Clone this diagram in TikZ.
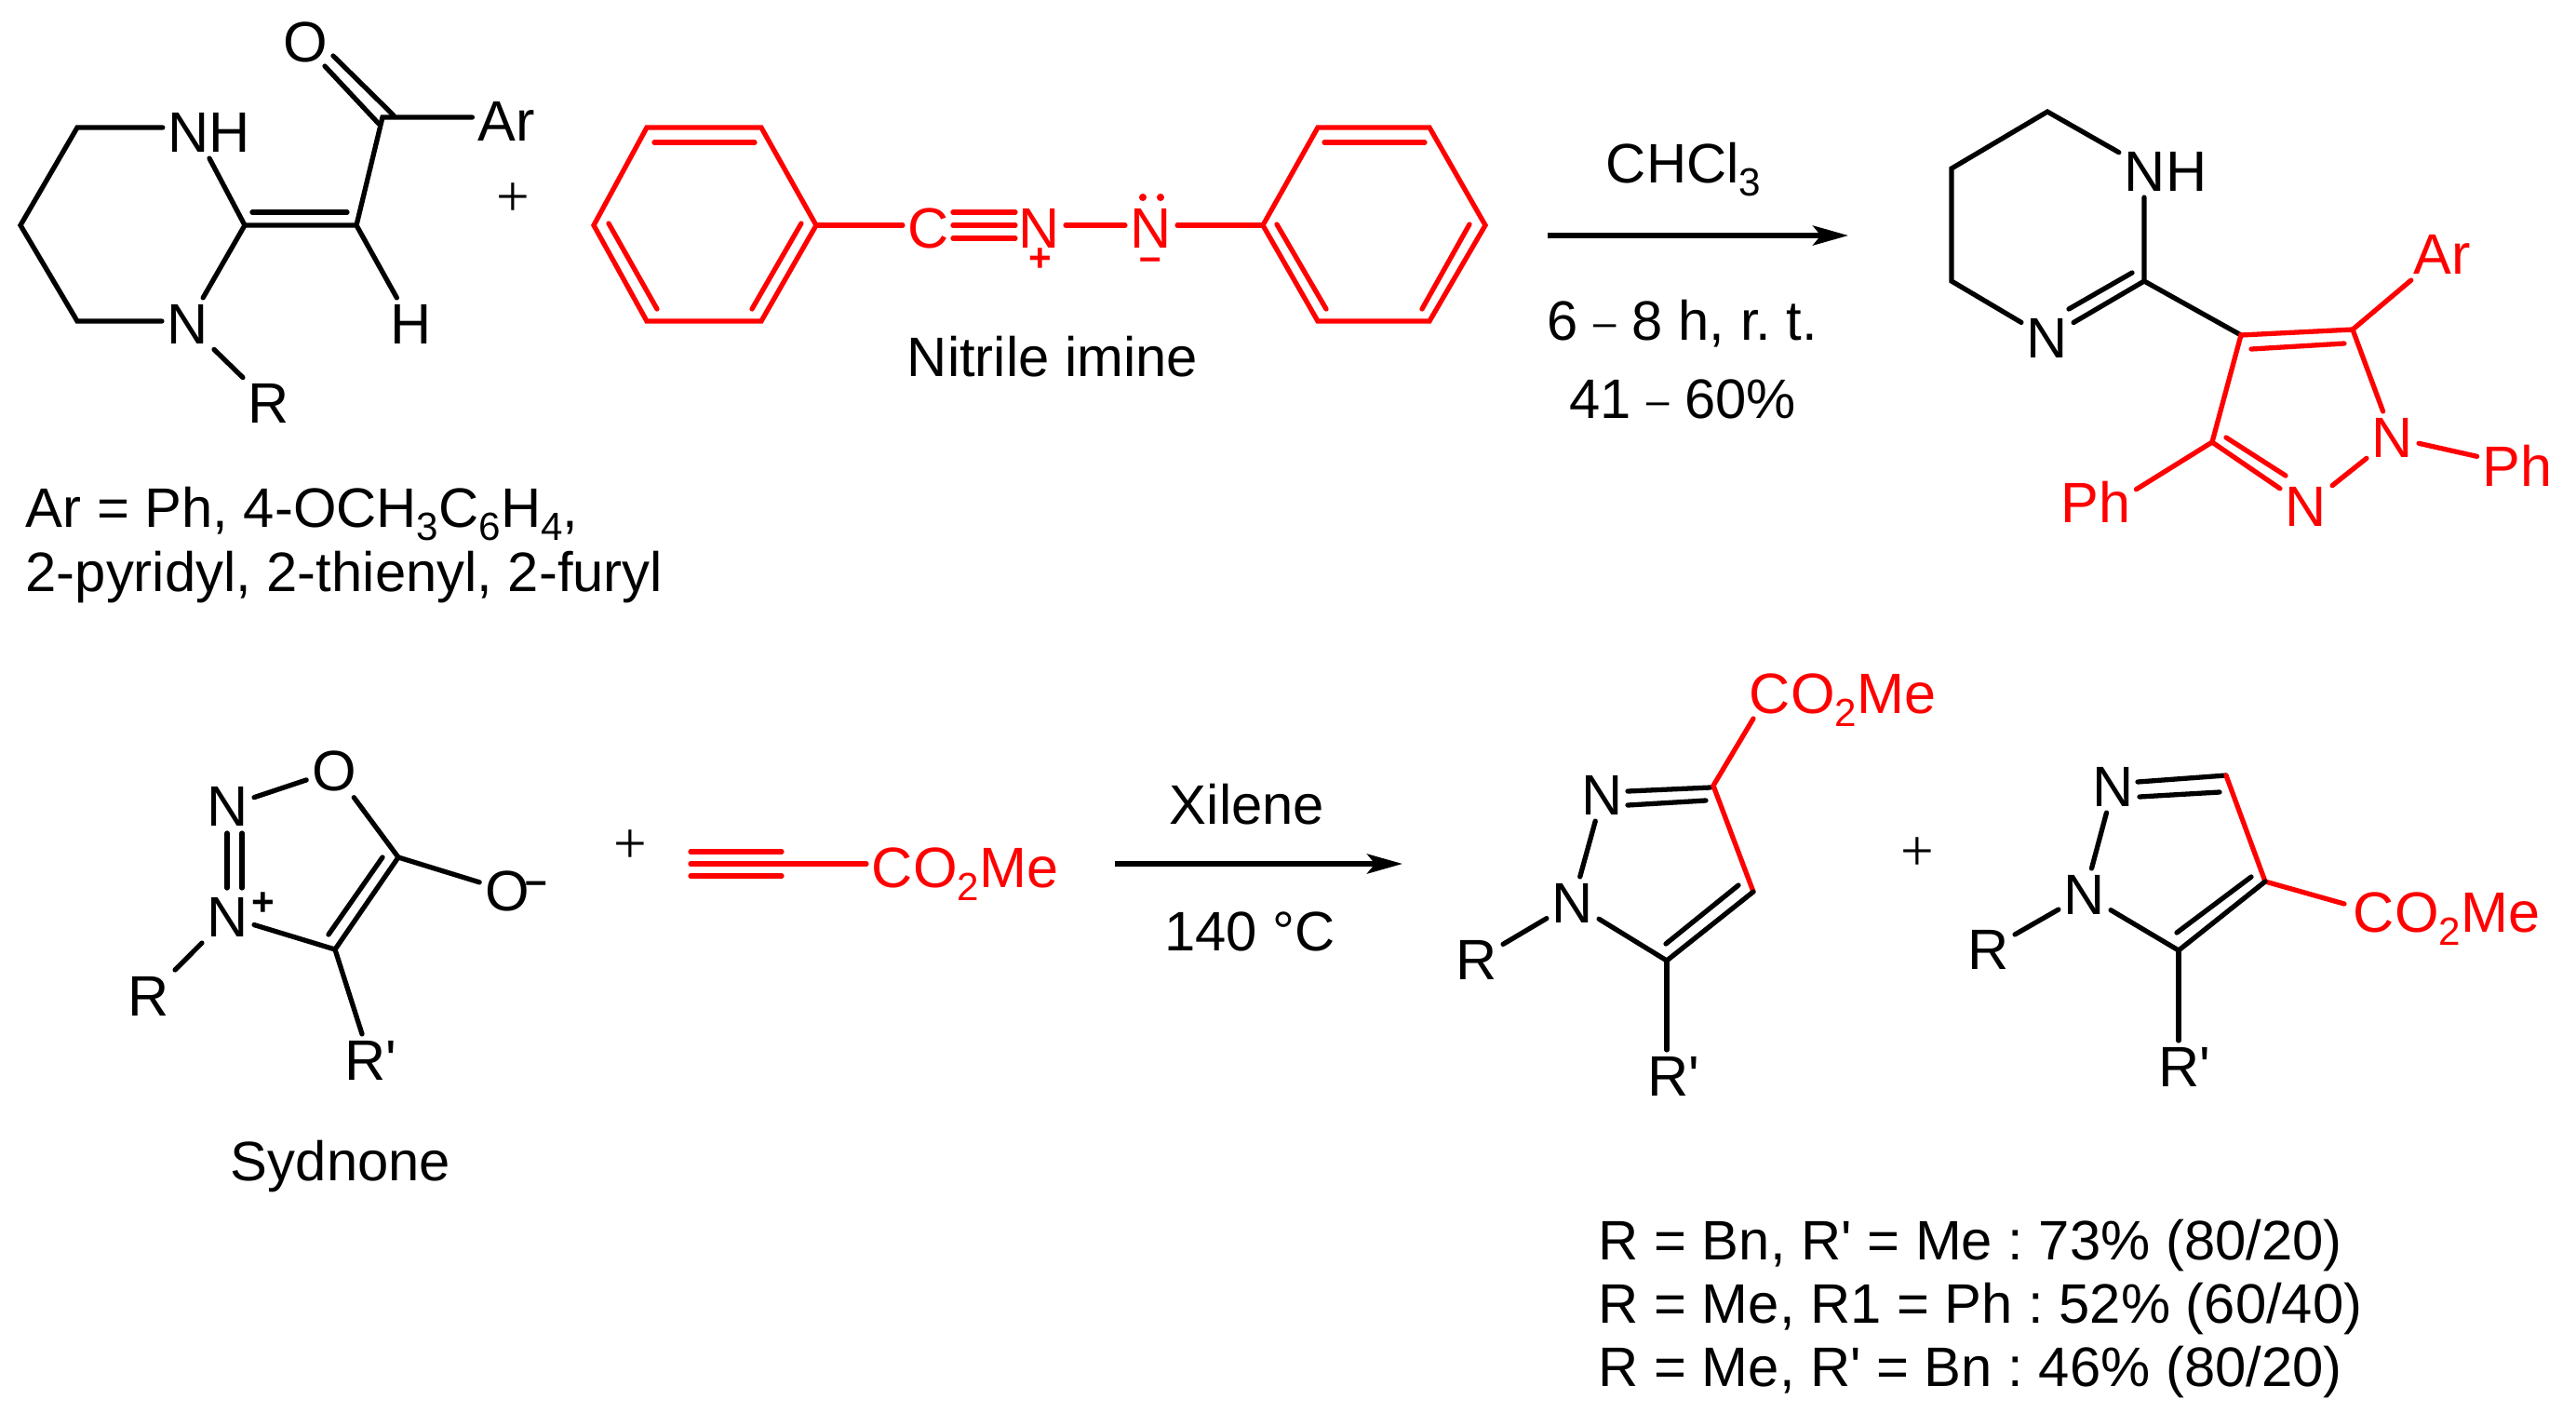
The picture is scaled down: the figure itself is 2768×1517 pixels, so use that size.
\documentclass[tikz,border=0pt]{standalone}
\usepackage{fontspec}
\setmainfont{Liberation Sans}
\newfontfamily\plusfont{Liberation Serif}
\usetikzlibrary{arrows.meta}
\frenchspacing
\newcommand{\subs}[1]{\raisebox{-.24em}{\fontsize{12}{12}\selectfont #1}}
\newcommand{\shortdash}{\raisebox{1pt}{\fontsize{12.5}{12}\selectfont --}}
\newcommand{\prm}{\textquotesingle}
\tikzset{
  bond/.style={line width=1.5pt, line cap=round, line join=miter},
  rbond/.style={bond, red},
  atom/.style={font=\fontsize{17.4}{21}\selectfont, inner xsep=1.5pt, inner ysep=1.8pt},
  ratom/.style={atom, text=red},
  txt/.style={font=\fontsize{17}{21}\selectfont, inner sep=0pt, anchor=base west},
  ctxt/.style={font=\fontsize{17}{21}\selectfont, inner sep=0pt, anchor=base},
  chg/.style={font=\fontsize{12}{12}\selectfont\bfseries, inner sep=0pt},
  rchg/.style={chg, text=red},
  bigplus/.style={font=\plusfont\fontsize{18}{18}\selectfont, inner sep=0pt},
  lpair/.style={circle, fill=red, inner sep=0pt, minimum size=2.3pt},
  rxn/.style={line width=1.5pt, -{Stealth[length=10.8pt, width=6pt, inset=2.4pt]}}
}
\begin{document}
\begin{tikzpicture}[x=.01cm, y=-.01cm]
\useasboundingbox (0,0) rectangle (2768,1517);
% enaminone
\coordinate (a1) at (83,137);
\coordinate (a2) at (22,242);
\coordinate (a3) at (83,345);
\coordinate (a4) at (263,242);
\coordinate (a5) at (383,242);
\coordinate (a6) at (411,126);
\coordinate (a4i) at (271,228);
\coordinate (a5i) at (373,228);
\coordinate (o1a) at (423,124);
\coordinate (o1b) at (358,60);
\coordinate (o2a) at (407,133);
\coordinate (o2b) at (349,71);
\node[atom] (an1) at (225,142){NH};
\node[atom] (an2) at (202,348){N};
\node[atom] (aar) at (544,130){Ar};
\node[atom] (ah) at (442,348){H};
\node[atom] (ar) at (289,433){R};
\node[atom] (ao) at (328,45){O};
\draw[bond] (a1 -| an1.west) -- (a1) -- (a2) -- (a3) -- (a3 -| an2.west);
\draw[bond] (an1.south) -- (a4) -- (an2);
\draw[bond] (a4) -- (a5) -- (ah);
\draw[bond] (a4i) -- (a5i);
\draw[bond] (a5) -- (a6) -- (a6 -| aar.west);
\draw[bond] (o1a) -- (o1b);
\draw[bond] (o2a) -- (o2b);
\draw[bond] (an2) -- (ar);
\node[bigplus] (plus1) at (551,215){+};
\node[txt] (ltext1) at (27,566){Ar = Ph, 4-OCH\subs{3}C\subs{6}H\subs{4},};
\node[txt] (ltext2) at (27,635){2-pyridyl, 2-thienyl, 2-furyl};
% nitrile imine
\coordinate (b1) at (695,137);
\coordinate (b2) at (818,137);
\coordinate (b3) at (877,242);
\coordinate (b4) at (818,345);
\coordinate (b5) at (695,345);
\coordinate (b6) at (638,242);
\coordinate (b1i) at (703,153);
\coordinate (b2i) at (811,153);
\coordinate (b3i) at (861,240);
\coordinate (b4i) at (808,332);
\coordinate (b5i) at (706,332);
\coordinate (b6i) at (654,240);
\draw[rbond] (b1) -- (b2) -- (b3) -- (b4) -- (b5) -- (b6) -- cycle;
\draw[rbond] (b1i) -- (b2i);
\draw[rbond] (b3i) -- (b4i);
\draw[rbond] (b5i) -- (b6i);
\node[ratom] (nc) at (998,245){C};
\node[ratom] (nn1) at (1117,245){N};
\node[ratom] (nn2) at (1237,245){N};
\node[rchg] (nplus) at (1118,279){+};
\node[rchg] (nminus) at (1236,284){--};
\node[lpair] (np1) at (1228,212){};
\node[lpair] (np2) at (1247,212){};
\coordinate (t1a) at (1024,228);
\coordinate (t1b) at (1091,228);
\coordinate (t2a) at (1024,242);
\coordinate (t2b) at (1091,242);
\coordinate (t3a) at (1024,256);
\coordinate (t3b) at (1091,256);
\draw[rbond] (b3) -- (b3 -| nc.west);
\draw[rbond] (t1a) -- (t1b);
\draw[rbond] (t2a) -- (t2b);
\draw[rbond] (t3a) -- (t3b);
\draw[rbond] (t2b -| nn1.east) -- (t2b -| nn2.west);
\coordinate (c1) at (1416,137);
\coordinate (c2) at (1536,137);
\coordinate (c3) at (1596,242);
\coordinate (c4) at (1536,345);
\coordinate (c5) at (1416,345);
\coordinate (c6) at (1357,242);
\coordinate (c1i) at (1423,153);
\coordinate (c2i) at (1531,153);
\coordinate (c3i) at (1579,241);
\coordinate (c4i) at (1528,332);
\coordinate (c5i) at (1425,332);
\coordinate (c6i) at (1372,241);
\draw[rbond] (c1) -- (c2) -- (c3) -- (c4) -- (c5) -- (c6) -- cycle;
\draw[rbond] (c1i) -- (c2i);
\draw[rbond] (c3i) -- (c4i);
\draw[rbond] (c5i) -- (c6i);
\draw[rbond] (c6 -| nn2.east) -- (c6);
\node[ctxt] (nlabel) at (1131,404){Nitrile imine};
% first reaction arrow
\coordinate (r1a) at (1663,253);
\coordinate (r1b) at (1986,253);
\draw[rxn] (r1a) -- (r1b);
\node[ctxt] (r1t) at (1809,196){CHCl\subs{3}};
\node[ctxt] (r1c) at (1808,365){6 \shortdash{} 8 h, r. t.};
\node[ctxt] (r1y) at (1808,449){41 \shortdash{} 60\%};
% pyrazole product
\coordinate (d1) at (2200,120);
\coordinate (d2) at (2097,181);
\coordinate (d3) at (2097,302);
\coordinate (d4) at (2304,302);
\coordinate (d4i) at (2291,293);
\coordinate (d5i) at (2223,332);
\coordinate (e1) at (2408,360);
\coordinate (e2) at (2528,354);
\coordinate (e3) at (2377,475);
\coordinate (e1i) at (2419,375);
\coordinate (e2i) at (2519,369);
\coordinate (e3i) at (2392,470);
\coordinate (e4i) at (2456,511);
\node[atom] (dn1) at (2327,184){NH};
\node[atom] (dn2) at (2200,363){N};
\node[ratom] (en1) at (2571,470){N};
\node[ratom] (en2) at (2478,544){N};
\node[ratom] (ear) at (2624,273){Ar};
\node[ratom] (eph1) at (2705,500){Ph};
\node[ratom] (eph2) at (2252,539){Ph};
\draw[bond] (dn1.158) -- (d1) -- (d2) -- (d3) -- (dn2);
\draw[bond] (d4 |- dn1.south) -- (d4) -- (dn2);
\draw[bond] (d4i) -- (d5i);
\draw[bond] (d4) -- (e1);
\draw[rbond] (e3) -- (e1) -- (e2) -- (en1);
\draw[rbond] (e1i) -- (e2i);
\draw[rbond] (e2) -- (ear);
\draw[rbond] (en1) -- (eph1);
\draw[rbond] (en1) -- (en2) -- (e3);
\draw[rbond] (e3i) -- (e4i);
\draw[rbond] (e3) -- (eph2.17);
% sydnone
\coordinate (s1) at (428,921);
\coordinate (s2) at (360,1020);
\coordinate (s1i) at (411,921);
\coordinate (s2i) at (353,1004);
\coordinate (s3a) at (244,895);
\coordinate (s3b) at (244,954);
\coordinate (s4a) at (260,895);
\coordinate (s4b) at (260,954);
\node[atom] (sn1) at (245,866){N};
\node[atom] (sn2) at (245,985){N};
\node[atom] (so1) at (359,828){O};
\node[atom] (so2) at (545,957){O};
\node[atom] (sr) at (160,1070){R};
\node[atom] (srp) at (398,1139){R\prm};
\node[chg] (splus) at (283,971){+};
\node[chg] (sminus) at (576,954){--};
\draw[bond] (sn1) -- (so1) -- (s1) -- (s2) -- (sn2);
\draw[bond] (s3a) -- (s3b);
\draw[bond] (s4a) -- (s4b);
\draw[bond] (s1i) -- (s2i);
\draw[bond] (s1) -- (so2);
\draw[bond] (sn2) -- (sr);
\draw[bond] (s2) -- (srp);
\node[ctxt] (slabel) at (366,1268){Sydnone};
\node[bigplus] (plus2) at (677,910){+};
% alkyne
\coordinate (k1a) at (742,915);
\coordinate (k1b) at (840,915);
\coordinate (k2a) at (742,928);
\coordinate (k3a) at (742,941);
\coordinate (k3b) at (840,941);
\node[ratom, anchor=base west] (kco) at (931,953){CO\subs{2}Me};
\draw[rbond] (k1a) -- (k1b);
\draw[rbond] (k2a) -- (k2a -| kco.west);
\draw[rbond] (k3a) -- (k3b);
% second reaction arrow
\coordinate (r2a) at (1198,928);
\coordinate (r2b) at (1507,928);
\draw[rxn] (r2a) -- (r2b);
\node[ctxt] (r2t) at (1340,885){Xilene};
\node[ctxt] (r2c) at (1343,1021){140 °C};
% regioisomer one
\coordinate (f1) at (1841,844);
\coordinate (f2) at (1884,958);
\coordinate (f3) at (1791,1032);
\coordinate (f1a) at (1749,850);
\coordinate (f1b) at (1838,846);
\coordinate (f2a) at (1749,865);
\coordinate (f2b) at (1833,860);
\coordinate (f2i) at (1868,951);
\coordinate (f3i) at (1790,1014);
\node[atom] (fn2) at (1722,854){N};
\node[atom] (fn1) at (1690,970){N};
\node[atom] (fr) at (1587,1031){R};
\node[atom] (frp) at (1798,1156){R\prm};
\node[ratom, anchor=base west] (fco) at (1874,766){CO\subs{2}Me};
\draw[bond] (f1a) -- (f1b);
\draw[bond] (f2a) -- (f2b);
\draw[rbond] ([shift={(10,6)}]fco.base west) -- (f1) -- (f2);
\draw[bond] (f2) -- (f3) -- (fn1) -- (fn2);
\draw[bond] (f2i) -- (f3i);
\draw[bond] (fn1) -- (fr);
\draw[bond] (f3) -- (f3 |- frp.north);
\node[bigplus] (plus3) at (2060,918){+};
% regioisomer two
\coordinate (g1) at (2392,833);
\coordinate (g2) at (2434,947);
\coordinate (g3) at (2341,1021);
\coordinate (g1a) at (2297,840);
\coordinate (g2a) at (2299,856);
\coordinate (g2b) at (2385,851);
\coordinate (g2i) at (2419,942);
\coordinate (g3i) at (2339,1002);
\node[atom] (gn2) at (2271,845){N};
\node[atom] (gn1) at (2240,961){N};
\node[atom] (gr) at (2137,1020){R};
\node[atom] (grp) at (2347,1146){R\prm};
\node[ratom, anchor=base west] (gco) at (2523,1001){CO\subs{2}Me};
\draw[bond] (g1a) -- (g1);
\draw[bond] (g2a) -- (g2b);
\draw[rbond] (g1) -- (g2) -- ([shift={(-4,-30)}]gco.base west);
\draw[bond] (g2) -- (g3) -- (gn1) -- (gn2);
\draw[bond] (g2i) -- (g3i);
\draw[bond] (gn1) -- (gr);
\draw[bond] (g3) -- (g3 |- grp.north);
% yields
\node[txt] (ytext1) at (1717,1353){R = Bn, R\prm{} = Me : 73\% (80/20)};
\node[txt] (ytext2) at (1717,1421){R = Me, R1 = Ph : 52\% (60/40)};
\node[txt] (ytext3) at (1717,1489){R = Me, R\prm{} = Bn : 46\% (80/20)};
\end{tikzpicture}
\end{document}
